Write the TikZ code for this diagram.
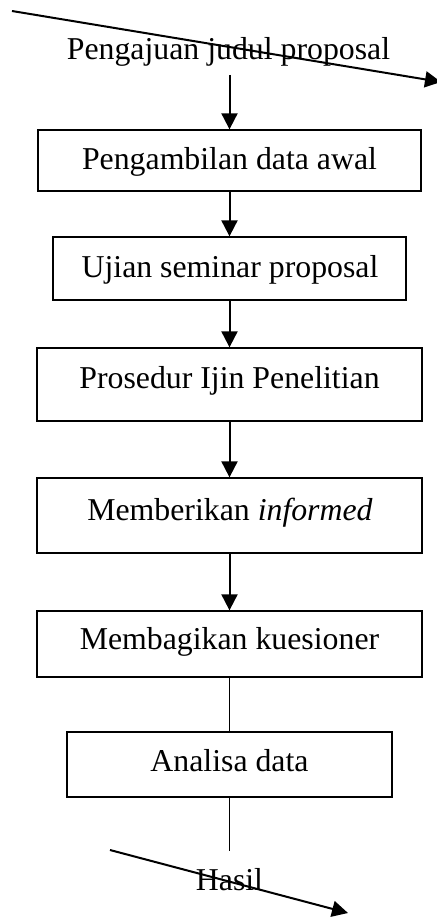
\documentclass[tikz,border=0pt]{standalone}
\usepackage{fontspec}
\setmainfont{Liberation Serif}
\usetikzlibrary{arrows.meta}
\begin{document}
\begin{tikzpicture}[x=1pt,y=-1pt,
  box/.style={draw,line width=1.3pt,inner sep=0pt},
  lbl/.style={anchor=base,inner sep=0pt,font=\fontsize{31.8}{38}\selectfont},
  arr/.style={line width=2pt,-{Triangle[length=16pt,width=16pt]}},
  thin/.style={line width=1.2pt}]
\useasboundingbox (0,0) rectangle (436,917);
% boxes
\node[box,minimum width=383pt,minimum height=61pt] (b1) at (229.5,160.5) {};
\node[box,minimum width=353pt,minimum height=63pt] (b2) at (229.5,268.5) {};
\node[box,minimum width=385pt,minimum height=73pt] (b3) at (229.5,384.5) {};
\node[box,minimum width=385pt,minimum height=75pt] (b4) at (229.5,515.5) {};
\node[box,minimum width=385pt,minimum height=66pt] (b5) at (229.5,644) {};
\node[box,minimum width=325pt,minimum height=65pt] (b6) at (229.5,764.5) {};
% texts
\node[lbl] (t0) at (228.5,60) {Pengajuan judul proposal};
\node[lbl] (t1) at (229.5,170) {Pengambilan data awal};
\node[lbl] (t2) at (230,277) {Ujian seminar proposal};
\node[lbl] (t3) at (229.5,388) {Prosedur Ijin Penelitian};
\node[lbl] (t4) at (230,520) {Memberikan \textit{informed}};
\node[lbl] (t5) at (229.5,649) {Membagikan kuesioner};
\node[lbl] (t6) at (229.5,771) {Analisa data};
\node[lbl] (t7) at (229.5,890) {Hasil};
% free ends
\coordinate (a0) at (229.5,75);
\coordinate (e6) at (229.5,851);
\coordinate (d1s) at (12,11);
\coordinate (d1e) at (441,82);
\coordinate (d2s) at (110,850);
\coordinate (d2e) at (348,913);
% connectors
\draw[arr] (a0) -- (b1.north);
\draw[arr] (b1.south) -- (b2.north);
\draw[arr] (b2.south) -- (b3.north);
\draw[arr] (b3.south) -- (b4.north);
\draw[arr] (b4.south) -- (b5.north);
\draw[thin] (b5.south) -- (b6.north);
\draw[thin] (b6.south) -- (e6);
\draw[arr] (d1s) -- (d1e);
\draw[arr] (d2s) -- (d2e);
\end{tikzpicture}
\end{document}
